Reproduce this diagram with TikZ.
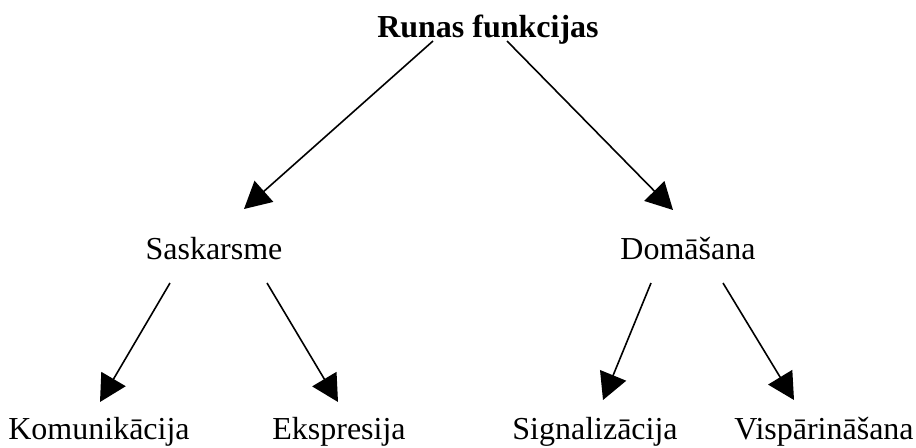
\documentclass[tikz,border=0pt]{standalone}
\usepackage{fontspec}
\setmainfont{Liberation Serif}
\usepackage{tikz}
\usetikzlibrary{arrows.meta, positioning, calc}

\begin{document}
\begin{tikzpicture}[
    % 1. styles
    x=0.75pt, y=-0.75pt,
    word/.style={anchor=base, inner sep=0pt, font=\fontsize{24}{28}\selectfont},
    rootword/.style={word, font=\fontsize{24}{28}\selectfont\bfseries},
    arr/.style={-{Triangle[length=20pt, width=21pt]}, line width=1.2pt, black}
]
    \useasboundingbox (0,0) rectangle (916,447);

    % =================================================================
    % I. words
    % =================================================================
    \node[rootword] (Root) at (488, 37) {Runas funkcijas};
    \node[word] (Sask) at (214, 259) {Saskarsme};
    \node[word] (Doma) at (688, 259) {Domāšana};
    \node[word] (Komu) at (99, 439) {Komunikācija};
    \node[word] (Eksp) at (339, 439) {Ekspresija};
    \node[word] (Sign) at (595, 439) {Signalizācija};
    \node[word] (Visp) at (824, 439) {Vispārināšana};

    % =================================================================
    % II. arrows
    % =================================================================
    \draw[arr] ($(Root.base)+(-55, 4)$) -- ($(Sask.base)+(30, -50)$);
    \draw[arr] ($(Root.base)+(19, 4)$) -- ($(Doma.base)+(-15, -49)$);

    \draw[arr] ($(Sask.base)+(-44, 24)$) -- ($(Komu.base)+(1, -37)$);
    \draw[arr] ($(Sask.base)+(53, 24)$) -- ($(Eksp.base)+(-1, -37)$);

    \draw[arr] ($(Doma.base)+(-37, 24)$) -- ($(Sign.base)+(8, -39)$);
    \draw[arr] ($(Doma.base)+(35, 24)$) -- ($(Visp.base)+(-30, -39)$);

\end{tikzpicture}
\end{document}
